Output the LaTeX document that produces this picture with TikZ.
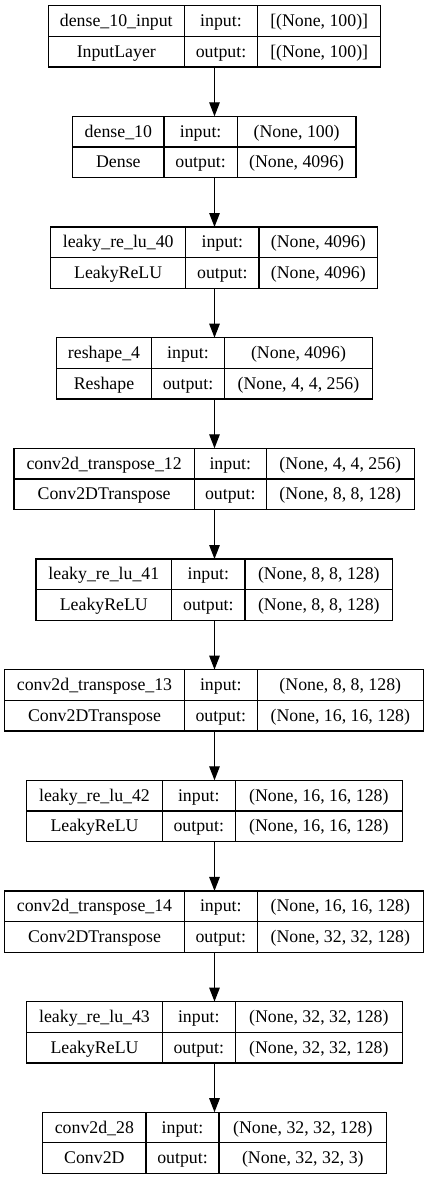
\documentclass[tikz,border=0pt]{standalone}
\usepackage{fontspec}
\setmainfont{Liberation Serif}
\usetikzlibrary{arrows.meta}
\newcommand\lay[9]{\def\Lid{#1}\def\Ltop{#2}\def\Ll{#3}\def\Lr{#4}\def\Lda{#5}\def\Ldb{#6}\def\Lname{#7}\def\Ltype{#8}\def\Lin{#9}\layfinish}
\newcommand\layfinish[1]{%
  \pgfmathsetmacro\Lmid{\Ltop+30.6}%
  \pgfmathsetmacro\Lbot{\Ltop+61.3}%
  \pgfmathsetmacro\Lw{\Lr-\Ll}%
  \pgfmathsetmacro\Lya{(\Ltop+\Lmid)/2+5.6}%
  \pgfmathsetmacro\Lyb{(\Lmid+\Lbot)/2+5.6}%
  \pgfmathsetmacro\Lxa{(\Ll+\Lda)/2}%
  \pgfmathsetmacro\Lxb{(\Lda+\Ldb)/2}%
  \pgfmathsetmacro\Lxc{(\Ldb+\Lr)/2}%
  \node[layerbox, minimum width=\Lw pt, anchor=north west] (\Lid) at (\Ll,\Ltop) {};
  \draw[cellline] (\Ll,\Lmid) -- (\Lr,\Lmid);
  \draw[cellline] (\Lda,\Ltop) -- (\Lda,\Lbot);
  \draw[cellline] (\Ldb,\Ltop) -- (\Ldb,\Lbot);
  \node[celltext] (\Lid-name) at (\Lxa,\Lya) {\Lname};
  \node[celltext] (\Lid-type) at (\Lxa,\Lyb) {\Ltype};
  \node[celltext] (\Lid-inl) at (\Lxb,\Lya) {input:};
  \node[celltext] (\Lid-outl) at (\Lxb,\Lyb) {output:};
  \node[celltext] (\Lid-in) at (\Lxc,\Lya) {\Lin};
  \node[celltext] (\Lid-out) at (\Lxc,\Lyb) {#1};
}
\begin{document}
\begin{tikzpicture}[x=1pt,y=-1pt,
  layerbox/.style={draw, line width=1.3pt, minimum height=61.3pt, inner sep=0pt, outer sep=0pt},
  cellline/.style={line width=1.3pt},
  celltext/.style={anchor=base, inner sep=0pt, font=\fontsize{17.8}{21}\selectfont},
  arr/.style={line width=1.3pt, -{Triangle[length=14pt,width=10.5pt]}}]
\useasboundingbox[fill=white] (0,0) rectangle (429,1180);
\lay{b1}{5.7}{48.3}{380.7}{184.3}{257.7}{dense\_10\_input}{InputLayer}{[(None, 100)]}{[(None, 100)]}
\lay{b2}{116.35}{72.7}{356}{164}{237.3}{dense\_10}{Dense}{(None, 100)}{(None, 4096)}
\lay{b3}{227}{50.7}{377.7}{185.7}{259}{leaky\_re\_lu\_40}{LeakyReLU}{(None, 4096)}{(None, 4096)}
\lay{b4}{337.65}{56.7}{372.3}{151.3}{224.7}{reshape\_4}{Reshape}{(None, 4096)}{(None, 4, 4, 256)}
\lay{b5}{448.3}{14}{414.3}{194.3}{266.3}{conv2d\_transpose\_12}{Conv2DTranspose}{(None, 4, 4, 256)}{(None, 8, 8, 128)}
\lay{b6}{559}{36}{392.7}{171.7}{245}{leaky\_re\_lu\_41}{LeakyReLU}{(None, 8, 8, 128)}{(None, 8, 8, 128)}
\lay{b7}{669.6}{4.7}{423.3}{184.3}{257.3}{conv2d\_transpose\_13}{Conv2DTranspose}{(None, 8, 8, 128)}{(None, 16, 16, 128)}
\lay{b8}{780.3}{26.7}{402.3}{162.3}{235.3}{leaky\_re\_lu\_42}{LeakyReLU}{(None, 16, 16, 128)}{(None, 16, 16, 128)}
\lay{b9}{890.9}{4.7}{423.3}{184.3}{257.3}{conv2d\_transpose\_14}{Conv2DTranspose}{(None, 16, 16, 128)}{(None, 32, 32, 128)}
\lay{b10}{1001.6}{26.7}{402.3}{162.3}{235.3}{leaky\_re\_lu\_43}{LeakyReLU}{(None, 32, 32, 128)}{(None, 32, 32, 128)}
\lay{b11}{1112.2}{42.7}{386.7}{146}{219}{conv2d\_28}{Conv2D}{(None, 32, 32, 128)}{(None, 32, 32, 3)}
\foreach \a/\b in {b1/b2,b2/b3,b3/b4,b4/b5,b5/b6,b6/b7,b7/b8,b8/b9,b9/b10,b10/b11}
  \draw[arr] (214.5,0 |- \a.south) -- (214.5,0 |- \b.north);
\end{tikzpicture}
\end{document}
